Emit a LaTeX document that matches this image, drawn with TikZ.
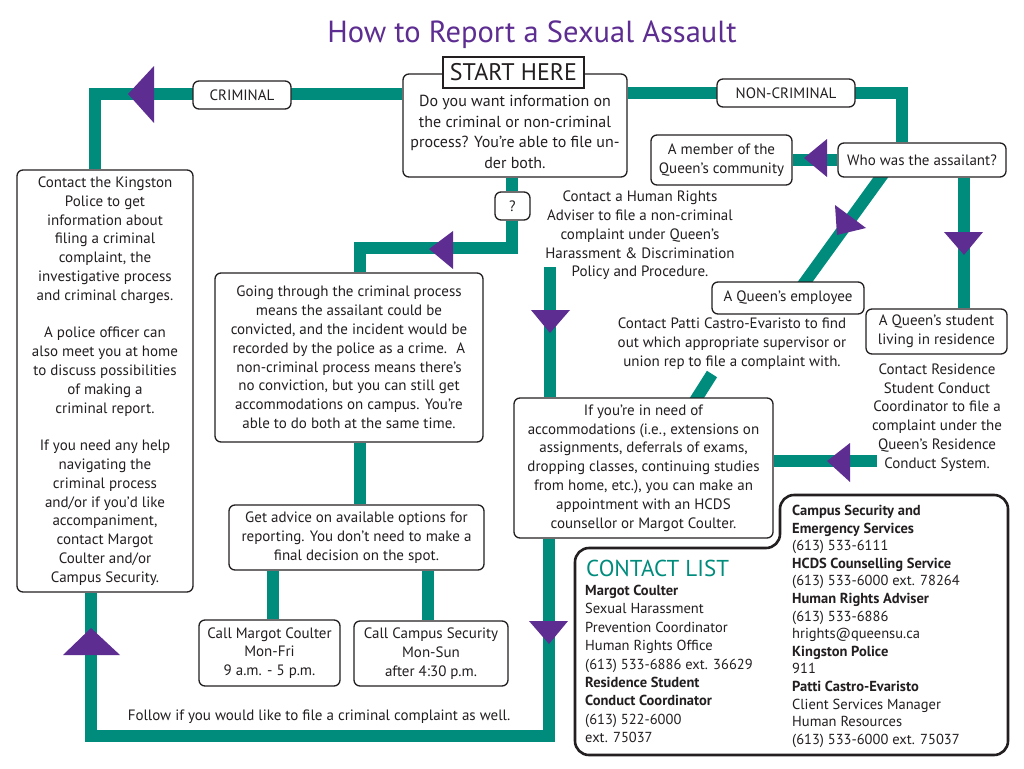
\documentclass[tikz,border=0pt]{standalone}
\usepackage{fontspec}
\setmainfont{PT Sans}
\definecolor{tealc}{RGB}{0,140,125}
\definecolor{purp}{RGB}{93,45,145}
\definecolor{ink}{RGB}{35,31,32}
\newcommand{\fsz}[2]{\fontsize{#1}{#2}\selectfont}
\pgfdeclarelayer{bglayer}
\pgfsetlayers{bglayer,main}
\begin{document}
\begin{tikzpicture}[x=1pt,y=-1pt,
  box/.style={draw=ink, line width=1.3pt, rounded corners=6pt, fill=white, align=center, inner sep=0pt, text=ink, font=\fsz{15}{18.8}},
  bx/.style n args={2}{box, minimum width=#1, minimum height=#2},
  flow/.style={draw=tealc, line width=12pt},
  arr/.style={fill=purp, draw=none},
  txt/.style={align=center, inner sep=0pt, text=ink, font=\fsz{15}{18.8}},
  ctxt/.style={align=left, inner sep=0pt, text=ink, anchor=north west}
]
\useasboundingbox (0,0) rectangle (1024,768);

% coordinates for bends and free ends
\coordinate (c1) at (95,94);
\coordinate (c2) at (902,93);
\coordinate (c3) at (512,248);
\coordinate (c4) at (360,248);
\coordinate (c6) at (964,200);
\coordinate (h1) at (550,267);
\coordinate (c7) at (91,736);
\coordinate (c8) at (549,736);
\coordinate (d1) at (885.7,170.5);
\coordinate (d2) at (800.3,288.5);
\coordinate (p1) at (712,374);
\coordinate (p2) at (693,404);
\coordinate (r1) at (877,461);
\coordinate (m1) at (273,600);
\coordinate (m2) at (428,600);

% title
\node[inner sep=0pt, anchor=base, text=purp, font=\fsz{30.5}{36}] (title) at (532,42) {How to Report a Sexual Assault};

% boxes
\node[bx={224pt}{103pt}] (start) at (515,125.5) {};
\node[box, rounded corners=0pt, minimum width=141pt, minimum height=31pt, font=\fsz{24}{26}] (starthere) at (513.5,72.5) {START HERE};
\node[txt, font=\fsz{16}{20.4}] (starttxt) at (515,132) {Do you want information on\\the criminal or non-criminal\\process? You’re able to file un-\\der both.};
\node[bx={98pt}{28pt}] (crim) at (242,95) {CRIMINAL};
\node[bx={138pt}{28pt}] (noncrim) at (786,93) {NON-CRIMINAL};
\node[bx={35pt}{28pt}] (q) at (512.5,206) {?};
\node[bx={141pt}{50pt}] (member) at (721.5,160) {A member of the\\Queen’s community};
\node[bx={168pt}{34pt}] (who) at (922,160) {Who was the assailant?};
\node[bx={152pt}{32pt}] (employee) at (788,298) {A Queen’s employee};
\node[bx={141pt}{45pt}] (student) at (936.5,331.5) {A Queen’s student\\living in residence};
\node[bx={259pt}{140pt}] (acc) at (643.5,468) {If you’re in need of\\accommodations (i.e., extensions on\\assignments, deferrals of exams,\\dropping classes, continuing studies\\from home, etc.), you can make an\\appointment with an HCDS\\counsellor or Margot Coulter.};
\node[bx={176pt}{422pt}] (kingston) at (105,381) {Contact the Kingston\\Police to get\\information about\\filing a criminal\\complaint, the\\investigative process\\and criminal charges.\\[18.8pt]A police officer can\\also meet you at home\\to discuss possibilities\\of making a\\criminal report.\\[18.8pt]If you need any help\\navigating the\\criminal process\\and/or if you’d like\\accompaniment,\\contact Margot\\Coulter and/or\\Campus Security.};
\node[bx={268pt}{169pt}] (going) at (349,357.5) {Going through the criminal process\\means the assailant could be\\convicted, and the incident would be\\recorded by the police as a crime.~ A\\non-criminal process means there’s\\no conviction, but you can still get\\accommodations on campus. You’re\\able to do both at the same time.};
\node[bx={255pt}{65pt}] (advice) at (356.5,537.5) {Get advice on available options for\\reporting. You don’t need to make a\\final decision on the spot.};
\node[bx={141pt}{66pt}] (margot) at (269.5,653) {Call Margot Coulter\\Mon-Fri\\9 a.m. - 5 p.m.};
\node[bx={154pt}{65pt}] (campus) at (431,653.5) {Call Campus Security\\Mon-Sun\\after 4:30 p.m.};

% free texts
\node[txt] (hrtxt) at (640,235.5) {Contact a Human Rights\\Adviser to file a non-criminal\\complaint under Queen’s\\Harassment \& Discrimination\\Policy and Procedure.};
\node[txt] (pattitxt) at (732,343.5) {Contact Patti Castro-Evaristo to find\\out which appropriate supervisor or\\union rep to file a complaint with.};
\node[txt] (restxt) at (937,417.5) {Contact Residence\\Student Conduct\\Coordinator to file a\\complaint under the\\Queen’s Residence\\Conduct System.};
\node[txt] (follow) at (319,717) {Follow if you would like to file a criminal complaint as well.};

% flows
\begin{pgfonlayer}{bglayer}
\fill[white] (0,0) rectangle (1024,768);
\draw[flow] (start.west |- c1) -- (c1) -- (c1 |- kingston.north);
\draw[flow] (start.east |- c2) -- (c2) -- (c2 |- who.north);
\draw[flow] (c3 |- start.south) -- (c3 |- q.north);
\draw[flow] (c3 |- q.south) -- (c3) -- (c4) -- (c4 |- going.north);
\draw[flow] (who.west) -- (member.east);
\draw[flow] (d1) -- (d2);
\draw[flow] (c6 |- who.south) -- (c6 |- student.north);
\draw[flow] (h1) -- (h1 |- acc.north);
\draw[flow] (c8 |- acc.south) -- (c8) -- (c7) -- (c7 |- kingston.south);
\draw[flow] (p1) -- (p2);
\draw[flow] (r1) -- (r1 -| acc.east);
\draw[flow] (c4 |- going.south) -- (c4 |- advice.north);
\draw[flow] (m1 |- advice.south) -- (m1 |- margot.north);
\draw[flow] (m2 |- advice.south) -- (m2 |- campus.north);
\end{pgfonlayer}

% arrowheads
\fill[arr] (128,94) -- (154,66) -- (154,123) -- cycle;
\fill[arr] (429,249) -- (453,231) -- (453,269) -- cycle;
\fill[arr] (804,158) -- (827,139) -- (827,177) -- cycle;
\fill[arr] (835,205) -- (866,228) -- (837,235) -- cycle;
\fill[arr] (944,232) -- (983,232) -- (964,255) -- cycle;
\fill[arr] (531,310) -- (570,310) -- (550,333) -- cycle;
\fill[arr] (827,461) -- (850,443) -- (850,482) -- cycle;
\fill[arr] (529,621) -- (568,621) -- (549,644) -- cycle;
\fill[arr] (91,628) -- (63,655) -- (120,655) -- cycle;

% contact list
\draw[ink, line width=2.6pt, rounded corners=14pt, fill=white] (575,650) -- (575,548) -- (780,548) -- (780,495) -- (1008,495) -- (1008,755) -- (575,755) -- cycle;
\node[inner sep=0pt, anchor=west, text=tealc, font=\fsz{23}{26}] (clist) at (586,568) {CONTACT LIST};
\node[ctxt, font=\fsz{14.5}{18.4}] (leftcol) at (585,585) {\textbf{Margot Coulter}\\Sexual Harassment\\Prevention Coordinator\\Human Rights Office\\(613) 533-6886 ext. 36629\\\textbf{Residence Student}\\\textbf{Conduct Coordinator}\\(613) 522-6000\\ext. 75037};
\node[ctxt, font=\fsz{14.5}{17.6}] (rightcol) at (792,505) {\textbf{Campus Security and}\\\textbf{Emergency Services}\\(613) 533-6111\\\textbf{HCDS Counselling Service}\\(613) 533-6000 ext. 78264\\\textbf{Human Rights Adviser}\\(613) 533-6886\\hrights@queensu.ca\\\textbf{Kingston Police}\\911\\\textbf{Patti Castro-Evaristo}\\Client Services Manager\\Human Resources\\(613) 533-6000 ext. 75037};
\end{tikzpicture}
\end{document}
